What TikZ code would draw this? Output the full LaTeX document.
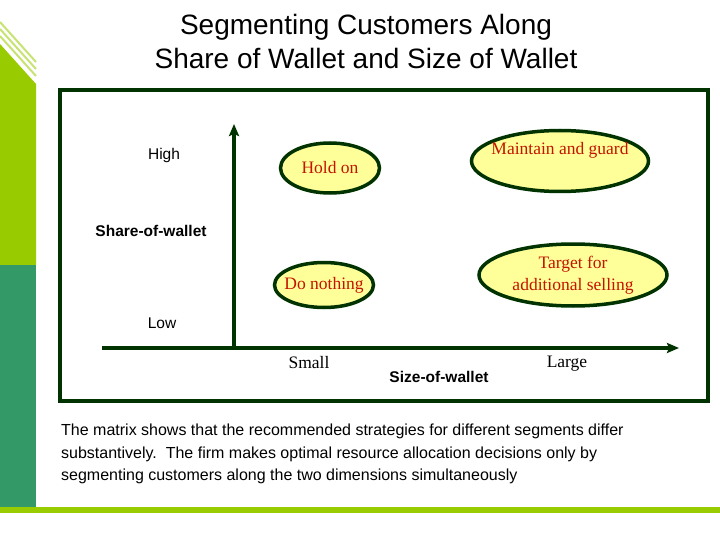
\documentclass[tikz,border=0pt]{standalone}
\usepackage{fontspec}
\setmainfont{Liberation Sans}
\newfontfamily\timesfont{Liberation Serif}
\usetikzlibrary{arrows.meta,shapes.geometric}
\definecolor{frameGreen}{RGB}{0,51,0}
\definecolor{barLime}{RGB}{153,204,0}
\definecolor{barTeal}{RGB}{51,153,102}
\definecolor{ovalFill}{RGB}{255,255,153}
\definecolor{labelRed}{RGB}{195,20,0}
\tikzset{
  oval/.style={draw=frameGreen, ellipse, line width=3.5pt, fill=ovalFill, inner sep=0pt},
  redtxt/.style={text=labelRed, align=center, font=\timesfont\fontsize{17.5}{22}\selectfont, inner sep=0pt},
  axislbl/.style={font=\timesfont\fontsize{17.5}{22}\selectfont, inner sep=0pt},
  levellbl/.style={font=\fontsize{15.5}{18}\selectfont, inner sep=0pt},
  dimlbl/.style={font=\bfseries\fontsize{15.5}{18}\selectfont, inner sep=0pt},
  axis/.style={draw=frameGreen, line width=3.5pt, -{Stealth[length=12pt,width=10pt,inset=2pt]}},
  note/.style={align=left, font=\fontsize{16}{22.5}\selectfont, inner sep=0pt}
}

\begin{document}
\begin{tikzpicture}[x=1pt,y=-1pt]
  \useasboundingbox[fill=white] (0,0) rectangle (720,540);

  % side bar and bottom rule
  \fill[barLime] (0,44) -- (36,84) -- (36,265) -- (0,265) -- cycle;
  \foreach \y in {22,29,36}
    \draw[barLime!55, line width=2pt] (0,\y) -- (36,\y+40);
  \fill[barTeal] (0,265) rectangle (36,507);
  \fill[barLime] (0,507) rectangle (720,513);

  \node[align=center, font=\fontsize{28}{34}\selectfont] (title) at (366,41)
    {Segmenting Customers Along\\Share of Wallet and Size of Wallet};

  \draw[frameGreen, line width=4pt] (60,90) rectangle (708,401);

  % axes
  \coordinate (origin) at (234,348);
  \coordinate (ytip) at (234,124);
  \coordinate (xstart) at (102,348);
  \coordinate (xtip) at (679,348);
  \draw[axis] (origin) -- (ytip);
  \draw[axis] (xstart) -- (xtip);

  \node[levellbl] (high) at (164,155) {High};
  \node[dimlbl] (share) at (151,231) {Share-of-wallet};
  \node[levellbl] (low) at (162,323) {Low};
  \node[axislbl] (small) at (309,363) {Small};
  \node[dimlbl] (size) at (439,377) {Size-of-wallet};
  \node[axislbl] (large) at (567,364) {Large};

  % segments
  \node[oval, minimum width=99pt, minimum height=50pt] (holdon) at (330,168) {};
  \node[redtxt] (holdontxt) at (holdon.center) {Hold on};
  \node[oval, minimum width=177pt, minimum height=61pt] (maintain) at (560,161) {};
  \node[redtxt] (maintaintxt) at ([yshift=11pt]maintain.center) {Maintain and guard};
  \node[oval, minimum width=99pt, minimum height=45pt] (donothing) at (324,285) {};
  \node[redtxt] (donothingtxt) at (donothing.center) {Do nothing};
  \node[oval, minimum width=188pt, minimum height=62pt] (target) at (573,275) {};
  \node[redtxt] (targettxt) at (target.center) {Target for\\additional selling};

  \node[note, anchor=north west] (summary) at (61,424) {The matrix shows that the recommended strategies for different segments differ\\substantively.\ \ The firm makes optimal resource allocation decisions only by\\segmenting customers along the two dimensions simultaneously};
\end{tikzpicture}
\end{document}
